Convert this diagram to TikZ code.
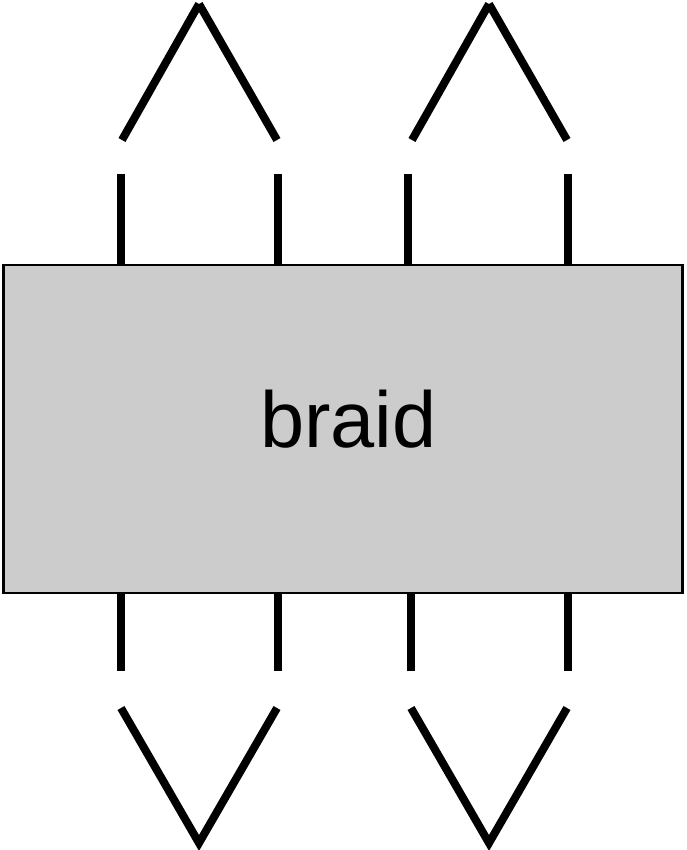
\documentclass[tikz,border=0pt]{standalone}
\usepackage{fontspec}
\setmainfont{Liberation Sans}
\definecolor{boxgray}{RGB}{204,204,204}
\begin{document}
\begin{tikzpicture}[x=0.75pt,y=-0.75pt,
  strand/.style={line width=6pt, line cap=butt},
  boxstyle/.style={draw, line width=1.9pt, fill=boxgray, inner sep=0pt, outer sep=0pt,
    minimum width=509pt, minimum height=246pt}]
\useasboundingbox (0,0) rectangle (686,850);
\node[boxstyle] (braid) at (343,429) {};
\node[inner sep=0pt] (lbl) at (348.5,419) {\fontsize{59.5}{70}\selectfont braid};
% top strand ends
\coordinate (ta) at (121,174);
\coordinate (tb) at (278,174);
\coordinate (tc) at (408,174);
\coordinate (td) at (568,174);
\foreach \p in {ta,tb,tc,td} \draw[strand] (\p) -- (\p |- braid.north);
% bottom strand ends
\coordinate (ba) at (121,671);
\coordinate (bb) at (278,671);
\coordinate (bc) at (411,671);
\coordinate (bd) at (568,671);
\foreach \p in {ba,bb,bc,bd} \draw[strand] (\p) -- (\p |- braid.south);
% caps
\coordinate (c1l) at (122,140); \coordinate (c1a) at (199,4); \coordinate (c1r) at (277,140);
\coordinate (c2l) at (412,140); \coordinate (c2a) at (489,4); \coordinate (c2r) at (567,140);
\draw[strand] (c1l) -- (c1a); \draw[strand] (c1a) -- (c1r);
\draw[strand] (c2l) -- (c2a); \draw[strand] (c2a) -- (c2r);
% cups
\coordinate (u1l) at (121,708); \coordinate (u1a) at (199,843); \coordinate (u1r) at (277,708);
\coordinate (u2l) at (411,708); \coordinate (u2a) at (489,843); \coordinate (u2r) at (567,708);
\draw[strand] (u1l) -- (u1a) -- (u1r);
\draw[strand] (u2l) -- (u2a) -- (u2r);
\end{tikzpicture}
\end{document}
